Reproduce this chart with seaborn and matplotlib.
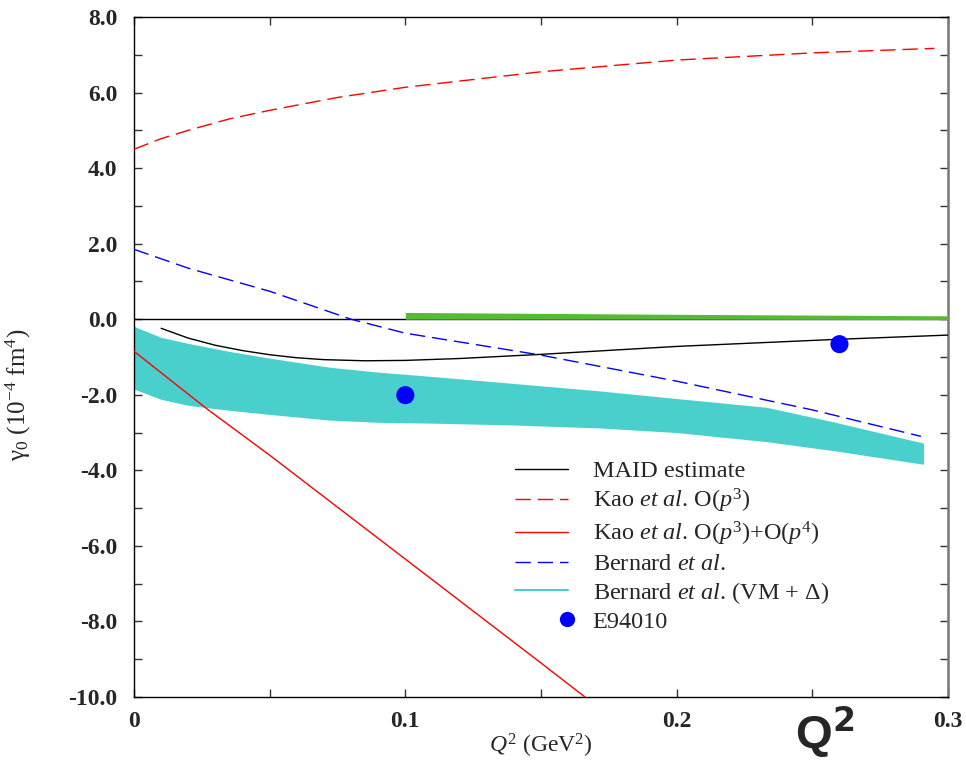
import numpy as np
import pandas as pd
import matplotlib
matplotlib.use("Agg")
import matplotlib.pyplot as plt
import seaborn as sns
from matplotlib.lines import Line2D
from matplotlib.legend_handler import HandlerLine2D
from matplotlib.ticker import MultipleLocator, FixedLocator

# ---- data ----
kao3_x = [0.0, 0.01, 0.02, 0.035, 0.05, 0.075, 0.1, 0.15, 0.2, 0.25, 0.295]
kao3_y = [4.5, 4.78, 5.0, 5.3, 5.53, 5.87, 6.14, 6.55, 6.86, 7.05, 7.17]

kao34_x = [0.0, 0.027, 0.05, 0.1, 0.15, 0.168]
kao34_y = [-0.85, -2.38, -3.6, -6.35, -9.1, -10.1]

bern_x = [0.0, 0.02, 0.05, 0.08, 0.1, 0.15, 0.2, 0.25, 0.29]
bern_y = [1.85, 1.35, 0.74, 0.0, -0.37, -0.95, -1.64, -2.4, -3.1]

maid_x = [0.01, 0.02, 0.03, 0.04, 0.05, 0.06, 0.07, 0.085, 0.1, 0.12, 0.15, 0.2, 0.26, 0.3]
maid_y = [-0.24, -0.5, -0.69, -0.83, -0.94, -1.02, -1.07, -1.1, -1.09, -1.04, -0.93, -0.72, -0.53, -0.42]

band_x = [0.0, 0.01, 0.02, 0.035, 0.05, 0.072, 0.09, 0.109, 0.14, 0.172, 0.2, 0.233, 0.258, 0.291]
band_lo = [-1.85, -2.12, -2.28, -2.41, -2.52, -2.67, -2.73, -2.75, -2.8, -2.88, -3.0, -3.24, -3.48, -3.84]
band_hi = [-0.19, -0.48, -0.64, -0.85, -1.03, -1.27, -1.4, -1.51, -1.7, -1.9, -2.1, -2.33, -2.72, -3.28]

green_x = [0.1, 0.2, 0.3]
green_lo = [0.0, 0.0, -0.01]
green_hi = [0.18, 0.13, 0.09]

exp_x = [0.1, 0.26]
exp_y = [-2.01, -0.66]

x_ticks = [0.0, 0.1, 0.2, 0.3]
x_ticklabels = ["0", "0.1", "0.2", "0.3"]
y_ticks = [8.0, 6.0, 4.0, 2.0, 0.0, -2.0, -4.0, -6.0, -8.0, -10.0]

labels = ["MAID estimate",
          r"Kao $\mathit{et\ al}$. O($\mathit{p}^3$)",
          r"Kao $\mathit{et\ al}$. O($\mathit{p}^3$)+O($\mathit{p}^4$)",
          r"Bernard $\mathit{et\ al}$.",
          r"Bernard $\mathit{et\ al}$. (VM + $\Delta$)",
          "E94010"]

# ---- style ----
sns.set_style("white")
plt.rcParams["font.family"] = ["Liberation Serif", "DejaVu Serif"]
plt.rcParams["mathtext.fontset"] = "custom"
plt.rcParams["mathtext.rm"] = "Liberation Serif"
plt.rcParams["mathtext.it"] = "Liberation Serif:italic"
plt.rcParams["mathtext.bf"] = "Liberation Serif:bold"

fig = plt.figure(figsize=(9.66, 7.64), dpi=100)
ax = fig.add_axes([134/966, 67/764, (948-134)/966, (697-17)/764])

TEAL = "#4ad0cc"
GREEN = "#55bb33"

ax.axhline(0, color="black", lw=1.0, zorder=2)
ax.fill_between(band_x, band_lo, band_hi, color=TEAL, lw=0, zorder=1)
ax.fill_between(green_x, green_lo, green_hi, color=GREEN, lw=0, zorder=3)

sns.lineplot(x=maid_x, y=maid_y, ax=ax, color="black", lw=1.0, zorder=4)
sns.lineplot(x=kao3_x, y=kao3_y, ax=ax, color="red", lw=1.0, zorder=4).lines[-1].set_dashes([11, 5])
sns.lineplot(x=kao34_x, y=kao34_y, ax=ax, color="red", lw=1.0, zorder=4)
sns.lineplot(x=bern_x, y=bern_y, ax=ax, color="blue", lw=1.0, zorder=4).lines[-1].set_dashes([11, 5])
sns.scatterplot(x=exp_x, y=exp_y, ax=ax, color="blue", s=170, edgecolor="none", zorder=5)

ax.set_xlim(0, 0.3)
ax.set_ylim(-10, 8)
ax.xaxis.set_major_locator(FixedLocator(x_ticks))
ax.set_xticklabels(x_ticklabels)
ax.xaxis.set_minor_locator(MultipleLocator(0.05))
ax.yaxis.set_major_locator(FixedLocator(y_ticks))
ax.set_yticklabels([f"{v:.1f}" for v in y_ticks])
ax.yaxis.set_minor_locator(MultipleLocator(1.0))
ax.tick_params(which="both", direction="in", top=True, right=True,
               bottom=True, left=True, width=1.0, color="#333333")
ax.tick_params(which="major", length=6, labelsize=17)
ax.tick_params(which="minor", length=6)
ax.tick_params(axis="y", which="major", pad=12)
ax.tick_params(axis="x", which="major", pad=10)
for t in ax.get_xticklabels() + ax.get_yticklabels():
    t.set_fontweight("bold")
for s in ax.spines.values():
    s.set_color("black")
    s.set_linewidth(1.0)
ax.spines["right"].set_color("#777777")
ax.spines["right"].set_linewidth(1.8)

ax.set_xlabel(r"$\mathit{Q}^2$ (GeV$^2$)", fontsize=17, labelpad=0)
ax.set_ylabel(r"γ$_0$ (10$^{-4}$ fm$^4$)", fontsize=18)
ax.yaxis.set_label_coords(-0.124, 0.445)

fig.text(795/966, 1 - 732/764, r"Q$^\mathbf{2}$", fontsize=34, fontweight="bold",
         family="Liberation Sans", va="center", ha="left",
         math_fontfamily="dejavusans")


class RightMarker(HandlerLine2D):
    def get_xdata(self, legend, xdescent, ydescent, width, height, fontsize):
        xm = width - xdescent - 0.05 * fontsize
        xd = np.array([xm, xm])
        return xd, xd


handles = [
    Line2D([], [], color="black", lw=1.0),
    Line2D([], [], color="red", lw=1.0, dashes=[11, 5]),
    Line2D([], [], color="red", lw=1.0),
    Line2D([], [], color="blue", lw=1.0, dashes=[11, 5]),
    Line2D([], [], color=TEAL, lw=1.5),
]
pt = Line2D([], [], color="blue", marker="o", markersize=11, linestyle="none",
            markeredgewidth=0)
handles.append(pt)
leg = ax.legend(handles, labels, loc="upper left",
                bbox_to_anchor=(515/966, 1 - 460/764), bbox_transform=fig.transFigure,
                frameon=False, fontsize=17.5, handlelength=2.2, handletextpad=1.0,
                labelspacing=0.2, borderaxespad=0, borderpad=0,
                handler_map={pt: RightMarker()})

fig.savefig("out.png", dpi=100)
